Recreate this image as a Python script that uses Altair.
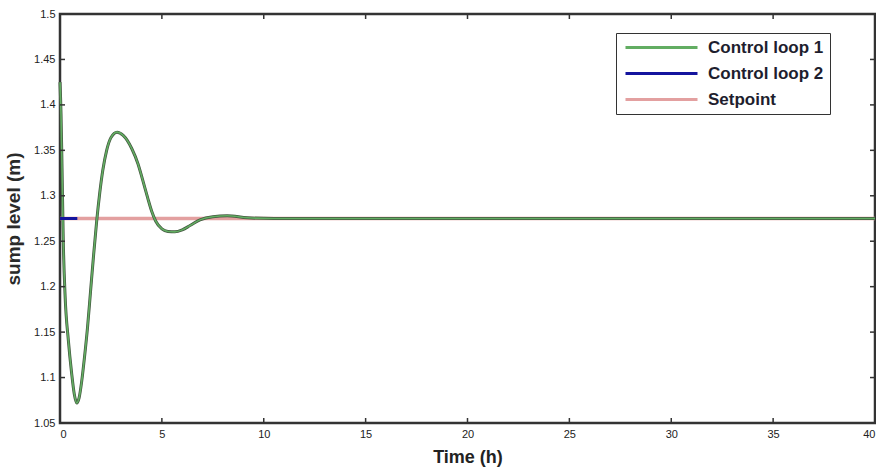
import altair as alt
import pandas as pd

# Control loop 1
t1 = [0, 0.05, 0.1, 0.16, 0.25, 0.41, 0.57, 0.7, 0.82, 0.94, 1.06, 1.2, 1.35, 1.5,
      1.65, 1.8, 1.95, 2.1, 2.29, 2.5, 2.8, 3.1, 3.3, 3.52, 3.83, 4.05, 4.3, 4.5, 4.7,
      5.0, 5.3, 5.64, 6.0, 6.4, 6.87, 7.5, 8.2, 9.2, 10.5, 40]
y1 = [1.425, 1.39, 1.33, 1.251, 1.19, 1.141, 1.105, 1.082, 1.072, 1.078, 1.095, 1.122,
      1.155, 1.195, 1.235, 1.272, 1.303, 1.328, 1.350, 1.364, 1.370, 1.3665, 1.361, 1.352,
      1.335, 1.318, 1.298, 1.283, 1.272, 1.2635, 1.2607, 1.2603, 1.2625, 1.2675, 1.2735,
      1.277, 1.278, 1.2758, 1.275, 1.275]
# Control loop 2 (visible short segment)
t2 = [0, 0.85]
y2 = [1.275, 1.275]
# Setpoint
t3 = [0, 40]
y3 = [1.275, 1.275]

series_names = ["Control loop 1", "Control loop 2", "Setpoint"]
series_colors = ["#62ad62", "#14149e", "#e3a0a0"]

x_ticks = [0, 5, 10, 15, 20, 25, 30, 35, 40]
y_ticks = [1.05, 1.1, 1.15, 1.2, 1.25, 1.3, 1.35, 1.4, 1.45, 1.5]

df = pd.concat([
    pd.DataFrame({"t": t1, "y": y1, "series": series_names[0]}),
    pd.DataFrame({"t": t2, "y": y2, "series": series_names[1]}),
    pd.DataFrame({"t": t3, "y": y3, "series": series_names[2]}),
])

W, H = 815, 409
NARROW = "Liberation Sans Narrow, Liberation Sans, sans-serif"
SANS = "Liberation Sans, sans-serif"

xs = alt.Scale(domain=[0, 40], nice=False, zero=False)
ys = alt.Scale(domain=[1.05, 1.5], nice=False, zero=False)

color = alt.Color(
    "series:N",
    scale=alt.Scale(domain=series_names, range=series_colors),
    legend=alt.Legend(
        title=None, orient="none", legendX=556, legendY=19,
        symbolType="M-2,0H14", symbolSize=81, symbolStrokeWidth=3,
        labelFont=NARROW, labelFontSize=17, labelFontWeight="bold",
        labelColor="#1e1e2e", labelOffset=65, rowPadding=8, padding=6,
        strokeColor="#333", fillColor="white", symbolOffset=4,
    ),
)

xenc = alt.X("t:Q", scale=xs, axis=alt.Axis(
    values=x_ticks, title="Time (h)", tickSize=0, grid=False, domain=False,
    labelFont=NARROW, labelFontSize=11, labelColor="#222", labelPadding=5,
    titleFont=SANS, titleFontSize=18, titleFontWeight="bold",
    titleColor="#222", titlePadding=9))
yenc = alt.Y("y:Q", scale=ys, axis=alt.Axis(
    values=y_ticks, format=".2~f", title="sump level (m)", tickSize=0, grid=False,
    domain=False, labelFont=NARROW, labelFontSize=11, labelColor="#222", labelPadding=5,
    titleFont=SANS, titleFontSize=19, titleFontWeight="bold",
    titleColor="#2a2a2a", titlePadding=10))

base = alt.Chart(df)

def sel(name):
    return base.transform_filter(alt.datum.series == name)

l3 = sel(series_names[2]).mark_line(strokeWidth=3.5).encode(x=xenc, y=yenc, color=color)
halo = sel(series_names[0]).mark_line(strokeWidth=3, color="#43573f",
                                      interpolate="monotone").encode(x=xenc, y=yenc)
l1 = sel(series_names[0]).mark_line(strokeWidth=1.6, interpolate="monotone").encode(
    x=xenc, y=yenc, color=color)
l2 = sel(series_names[1]).mark_line(strokeWidth=3).encode(x=xenc, y=yenc, color=color)

xt = pd.DataFrame({"v": x_ticks})
yt = pd.DataFrame({"v": y_ticks})
tick_color = "#333"
xb = alt.Chart(xt).mark_rule(color=tick_color, strokeWidth=1.5).encode(
    x=alt.X("v:Q", scale=xs), y=alt.value(H), y2=alt.value(H - 5))
xtop = alt.Chart(xt).mark_rule(color=tick_color, strokeWidth=1.5).encode(
    x=alt.X("v:Q", scale=xs), y=alt.value(0), y2=alt.value(5))
yl = alt.Chart(yt).mark_rule(color=tick_color, strokeWidth=1.5).encode(
    y=alt.Y("v:Q", scale=ys), x=alt.value(0), x2=alt.value(5))
yr = alt.Chart(yt).mark_rule(color=tick_color, strokeWidth=1.5).encode(
    y=alt.Y("v:Q", scale=ys), x=alt.value(W), x2=alt.value(W - 5))

chart = alt.layer(l3, halo, l1, l2, xb, xtop, yl, yr).properties(
    width=W, height=H,
    autosize=alt.AutoSizeParams(type="none"),
    padding={"left": 60, "top": 14, "right": 1, "bottom": 45},
    background="white",
).configure_view(stroke="#333", strokeWidth=2.5)

chart.save("out.html", embed_options={"renderer": "svg", "actions": False})
